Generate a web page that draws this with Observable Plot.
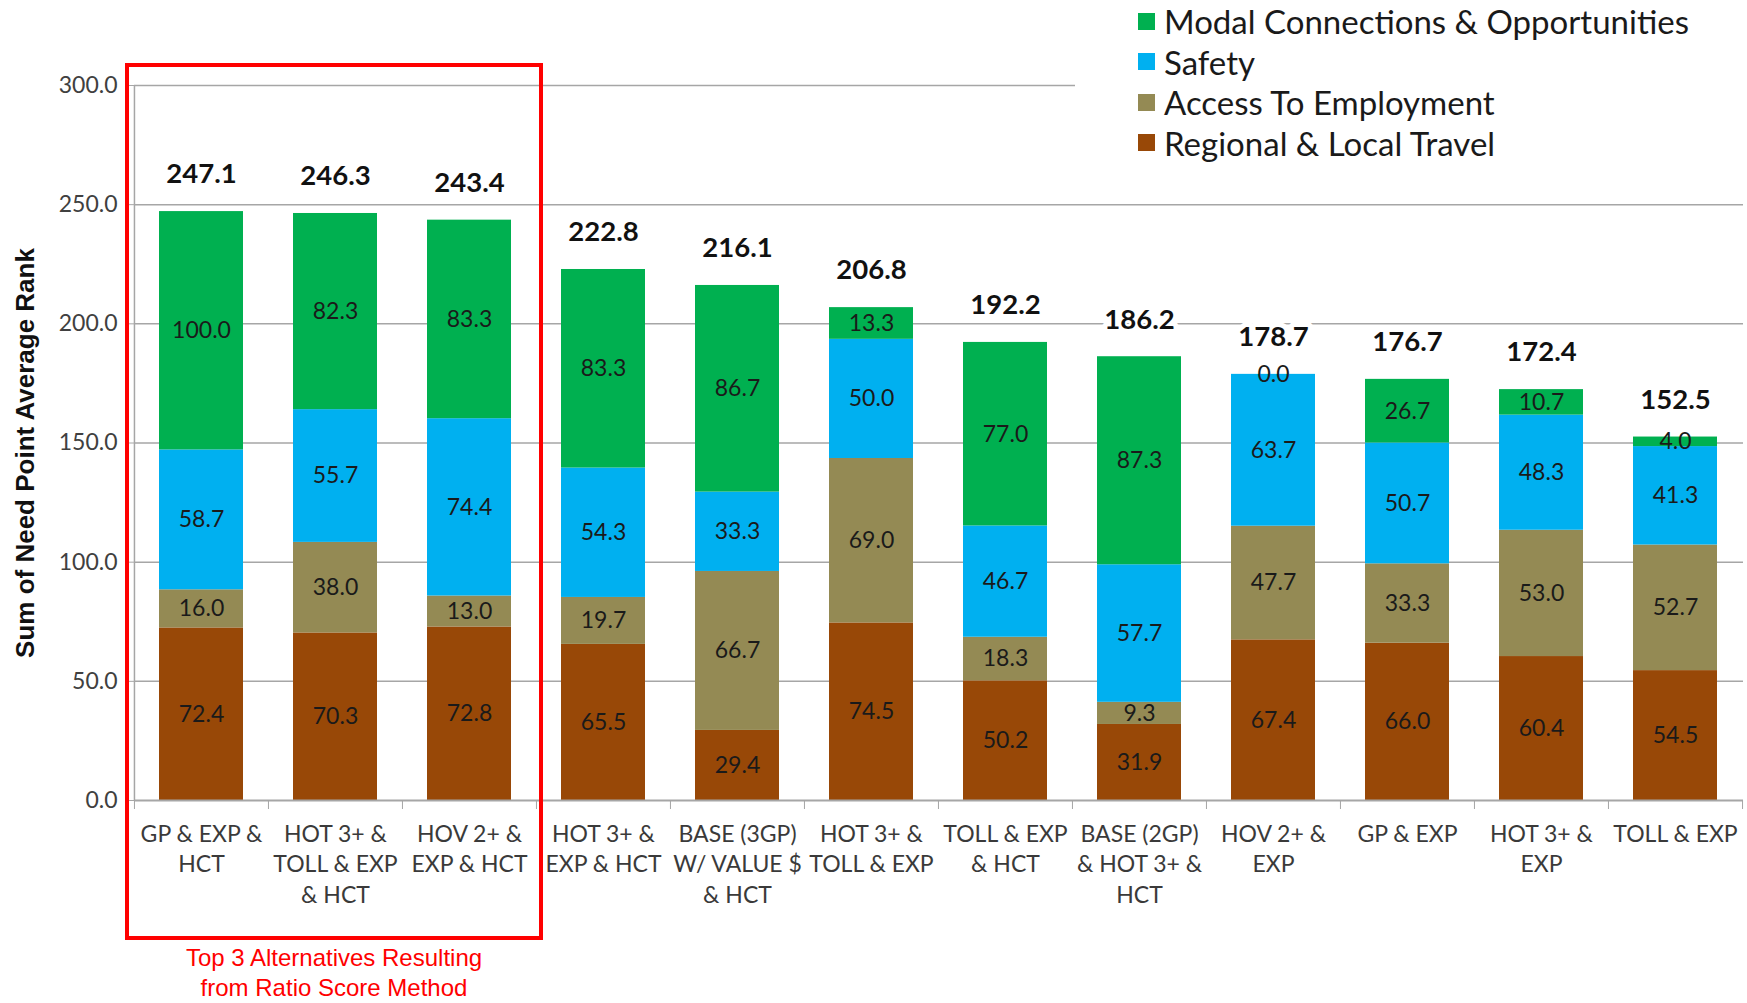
<!DOCTYPE html>
<html>
<head>
<meta charset="utf-8">
<script src="https://cdn.jsdelivr.net/npm/d3@7"></script>
<script src="https://cdn.jsdelivr.net/npm/@observablehq/plot@0.6"></script>
<style>
  html, body { margin: 0; padding: 0; background: #fff; }
  #wrap { position: relative; width: 1747px; height: 1003px; overflow: hidden; }
  #legend { position: absolute; left: 1075px; top: 0; width: 672px; height: 160px; background: #fff; font-family: Lato, "Open Sans", sans-serif; font-size: 33px; color: #1a1a1a; }
  .li { position: absolute; left: 63px; height: 40px; display: flex; align-items: center; white-space: nowrap; }
  .sw { width: 17px; height: 17px; margin-right: 9px; }
  #redbox { position: absolute; border: 4px solid #ff0000; box-sizing: border-box; }
  #redtext { position: absolute; color: #ff0000; font-family: "Liberation Sans Narrow", "Arial Narrow", "Liberation Sans", sans-serif; font-size: 24px; text-align: center; line-height: 30px; }
</style>
</head>
<body>
<div id="wrap"></div>
<script>
const categories = [
  "GP & EXP &\nHCT",
  "HOT 3+ &\nTOLL & EXP\n& HCT",
  "HOV 2+ &\nEXP & HCT",
  "HOT 3+ &\nEXP & HCT",
  "BASE (3GP)\nW/ VALUE $\n& HCT",
  "HOT 3+ &\nTOLL & EXP",
  "TOLL & EXP\n& HCT",
  "BASE (2GP)\n& HOT 3+ &\nHCT",
  "HOV 2+ &\nEXP",
  "GP & EXP",
  "HOT 3+ &\nEXP",
  "TOLL & EXP"
];
const regional = [72.4, 70.3, 72.8, 65.5, 29.4, 74.5, 50.2, 31.9, 67.4, 66.0, 60.4, 54.5];
const access   = [16.0, 38.0, 13.0, 19.7, 66.7, 69.0, 18.3, 9.3, 47.7, 33.3, 53.0, 52.7];
const safety   = [58.7, 55.7, 74.4, 54.3, 33.3, 50.0, 46.7, 57.7, 63.7, 50.7, 48.3, 41.3];
const modal    = [100.0, 82.3, 83.3, 83.3, 86.7, 13.3, 77.0, 87.3, 0.0, 26.7, 10.7, 4.0];
const totals   = [247.1, 246.3, 243.4, 222.8, 216.1, 206.8, 192.2, 186.2, 178.7, 176.7, 172.4, 152.5];
const seriesNames  = ["Regional & Local Travel", "Access To Employment", "Safety", "Modal Connections & Opportunities"];
const seriesColors = ["#984807", "#948A54", "#00B0F0", "#00B050"];
const yTicks = [0, 50, 100, 150, 200, 250, 300];
const yTitle = "Sum of Need Point Average Rank";
const calloutText = "Top 3 Alternatives Resulting\nfrom Ratio Score Method";

const seriesValues = [regional, access, safety, modal];
const tidy = [];
categories.forEach((c, i) => {
  seriesNames.forEach((s, k) => tidy.push({category: c, series: s, value: seriesValues[k][i]}));
});
const totalRows = categories.map((c, i) => ({category: c, total: totals[i]}));

const W = 1747, H = 1003, ML = 134, MR = 4, MT = 85, MB = 203;
const step = (W - ML - MR) / categories.length;

const plot = Plot.plot({
  width: W, height: H,
  marginLeft: ML, marginRight: MR, marginTop: MT, marginBottom: MB,
  style: {fontFamily: "Lato, 'Open Sans', sans-serif", background: "#fff"},
  x: {type: "band", domain: categories, paddingInner: 0.37, paddingOuter: 0.185, label: null, axis: null},
  y: {domain: [0, 300], label: null, axis: null},
  color: {domain: seriesNames, range: seriesColors},
  marks: [
    Plot.gridY(yTicks.slice(1), {stroke: "#a6a6a6", strokeOpacity: 1, strokeWidth: 1.5}),
    Plot.axisY(yTicks, {tickFormat: d3.format(".1f"), tickSize: 7, tickPadding: 10, stroke: "#a6a6a6", fontSize: 23, fill: "#404040", label: null}),
    Plot.ruleX(categories.slice(0, 1), {x: d => d, y1: 0, y2: 300, dx: -step / 2, stroke: "#a6a6a6", strokeWidth: 1.5}),
    Plot.barY(tidy, {x: "category", y: "value", fill: "series", z: "series"}),
    Plot.ruleY([0], {stroke: "#a6a6a6", strokeWidth: 2}),
    Plot.axisX(categories, {tickSize: 9, tickFormat: () => "", dx: -step / 2, stroke: "#a6a6a6", label: null}),
    Plot.axisX(categories.slice(-1), {tickSize: 9, tickFormat: () => "", dx: step / 2, stroke: "#a6a6a6", label: null}),
    Plot.axisX(categories, {tickSize: 0, tickPadding: 20, fontSize: 23, fontFamily: "Lato, sans-serif", fill: "#3a3a3a", lineHeight: 1.32, label: null}),
    Plot.text(tidy, Plot.stackY({x: "category", y: "value", z: "series", text: d => d.value.toFixed(1), fontSize: 23, fill: "#1a1a1a"})),
    Plot.text(totalRows, {x: "category", y: "total", text: d => d.total.toFixed(1), dy: -37, fontSize: 27.5, fontWeight: "bold", fill: "#111", stroke: "#fff", strokeWidth: 10}),
    Plot.text([yTitle], {frameAnchor: "left", textAnchor: "middle", rotate: -90, dx: -109, dy: 10, fontSize: 26, fontWeight: "bold", fontFamily: "'Liberation Sans', Arial, sans-serif", fill: "#111"})
  ]
});

const wrap = document.getElementById("wrap");
wrap.appendChild(plot);

// legend (top right, white box)
const legend = document.createElement("div");
legend.id = "legend";
const order = [3, 2, 1, 0];
order.forEach((k, r) => {
  const row = document.createElement("div");
  row.className = "li";
  row.style.top = (1 + r * 40.5) + "px";
  const sw = document.createElement("div");
  sw.className = "sw";
  sw.style.background = seriesColors[k];
  row.appendChild(sw);
  const t = document.createElement("span");
  t.textContent = seriesNames[k];
  row.appendChild(t);
  legend.appendChild(row);
});
wrap.appendChild(legend);

// red callout box around the first three alternatives
const xs = plot.scale("x");
const bw = xs.bandwidth, st = xs.step;
const left = ML - 9;
const right = xs.apply(categories[2]) + bw + (st - bw) / 2 + 7;
const box = document.createElement("div");
box.id = "redbox";
box.style.left = left + "px";
box.style.top = (MT - 22) + "px";
box.style.width = (right - left) + "px";
box.style.height = (940 - MT + 22) + "px";
wrap.appendChild(box);

const rt = document.createElement("div");
rt.id = "redtext";
rt.innerHTML = calloutText.split("\n").join("<br>");
rt.style.left = left + "px";
rt.style.width = (right - left) + "px";
rt.style.top = "943px";
wrap.appendChild(rt);
</script>
</body>
</html>
